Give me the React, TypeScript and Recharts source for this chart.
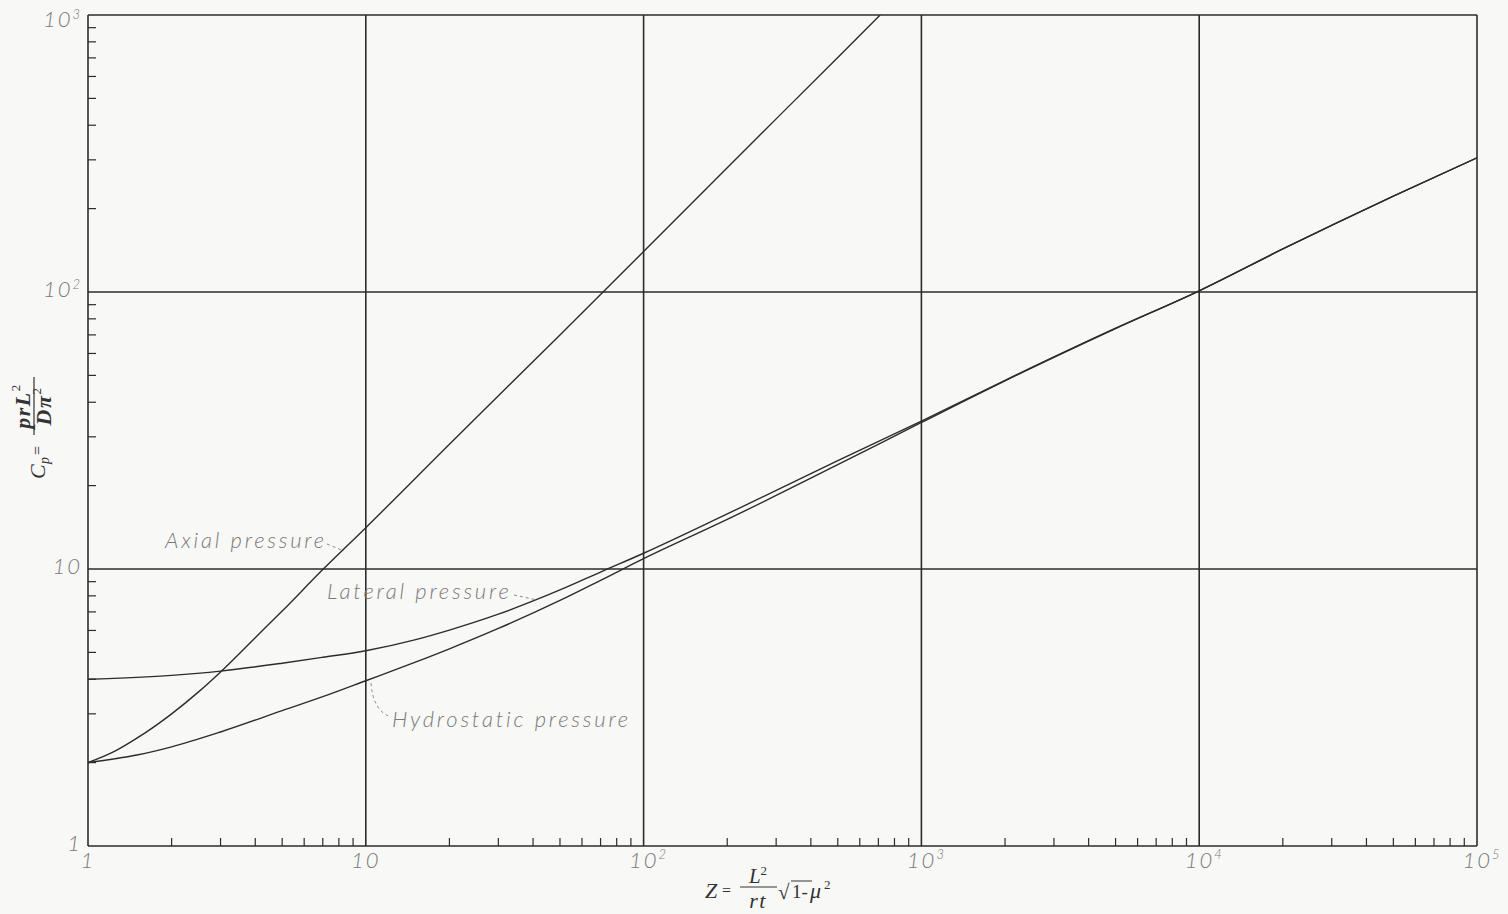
import { LineChart, Line, XAxis, YAxis, ReferenceLine } from "recharts";

// Z values and Cp values
const axialZ = [1, 1.25, 1.5, 2, 2.5, 3, 4, 5, 7, 10, 20, 50, 100, 200, 500, 710];
const axialCp = [2.0, 2.2, 2.45, 3.0, 3.6, 4.25, 5.65, 7.05, 9.95, 14.1, 28.2, 70, 140, 281, 703, 1000];

const lateralZ = [1, 2, 3, 5, 7, 10, 15, 20, 30, 50, 70, 100, 200, 500, 1000, 2000, 5000, 10000, 20000, 50000, 100000];
const lateralCp = [4.0, 4.13, 4.28, 4.57, 4.8, 5.07, 5.55, 6.02, 6.87, 8.4, 9.75, 11.4, 15.8, 24.6, 34.2, 48, 74, 101, 143, 222, 305];

const hydroZ = [1, 1.5, 2, 3, 5, 7, 10, 15, 20, 30, 50, 70, 100, 200, 500, 1000, 2000, 5000, 10000, 20000, 50000, 100000];
const hydroCp = [2.0, 2.13, 2.28, 2.58, 3.08, 3.46, 3.95, 4.6, 5.15, 6.1, 7.7, 9.1, 10.9, 15.1, 23.8, 33.8, 47.8, 73.8, 101, 143, 222, 305];

// axis ticks
const xMajor = [1, 10, 100, 1000, 10000, 100000];
const yMajor = [1, 10, 100, 1000];
const minorSteps = [2, 3, 4, 5, 6, 7, 8, 9];
const xMinor = [1, 10, 100, 1000, 10000].flatMap((d) => minorSteps.map((s) => s * d));
const yMinor = [1, 10, 100].flatMap((d) => minorSteps.map((s) => s * d));
const xTickLabels = [["1", ""], ["10", ""], ["10", "2"], ["10", "3"], ["10", "4"], ["10", "5"]];
const yTickLabels = [["1", ""], ["10", ""], ["10", "2"], ["10", "3"]];

const toRows = (zs: number[], cps: number[]) => zs.map((z, i) => ({ z, cp: cps[i] }));
const axialData = toRows(axialZ, axialCp);
const lateralData = toRows(lateralZ, lateralCp);
const hydroData = toRows(hydroZ, hydroCp);

const INK = "#2c2c2c";
const LABEL = "#7a7a7a";
const labelFont = { fontFamily: "Lato, 'Liberation Sans', sans-serif", fontStyle: "italic" as const, fontWeight: 300 };

const XTick = (props: any) => {
  const { x, y, payload } = props;
  const i = xMajor.indexOf(payload.value);
  if (i < 0) {
    return <line x1={x} x2={x} y1={y} y2={y - 8} stroke={INK} strokeWidth={1.2} />;
  }
  const [base, sup] = xTickLabels[i];
  return (
    <text x={x + (sup ? 5 : 0)} y={y + 22} textAnchor="middle" fill={LABEL} fontSize={22} letterSpacing={2} {...labelFont}>
      {base}
      {sup && <tspan fontSize={13} dy={-9}>{sup}</tspan>}
    </text>
  );
};

const YTick = (props: any) => {
  const { x, y, payload } = props;
  const i = yMajor.indexOf(payload.value);
  if (i < 0) {
    return <line x1={x} x2={x + 8} y1={y} y2={y} stroke={INK} strokeWidth={1.2} />;
  }
  const [base, sup] = yTickLabels[i];
  // the top label would be clipped at the page edge, so it sits a little lower
  const dy = i === yMajor.length - 1 ? 12 : 5;
  return (
    <text x={x - 6} y={y + dy} textAnchor="end" fill={LABEL} fontSize={22} letterSpacing={2} {...labelFont}>
      {base}
      {sup && <tspan fontSize={13} dy={-8}>{sup}</tspan>}
    </text>
  );
};

const Overlay = () => (
  <svg width={1508} height={914} style={{ position: "absolute", left: 0, top: 0, pointerEvents: "none" }}>
    {/* y axis title */}
    <g transform="translate(34,405) rotate(-90)" fill="#333" fontFamily="'Liberation Serif', serif" fontStyle="italic">
      <text x={-74} y={11} fontSize={22}>C</text>
      <text x={-59} y={15} fontSize={14}>p</text>
      <text x={-50} y={9} fontSize={16} fontStyle="normal">=</text>
      <line x1={-30} x2={28} y1={0} y2={0} stroke="#333" strokeWidth={1.2} />
      <text x={-1} y={-4} fontSize={22} fontWeight="bold" textAnchor="middle" letterSpacing={1.5}>
        prL<tspan fontSize={13} dy={-10} fontStyle="normal" fontWeight="normal">2</tspan>
      </text>
      <text x={-1} y={17} fontSize={22} fontWeight="bold" textAnchor="middle" letterSpacing={1.5}>
        Dπ<tspan fontSize={13} dy={-10} fontStyle="normal" fontWeight="normal">2</tspan>
      </text>
    </g>
    {/* x axis title */}
    <g fill="#333" fontFamily="'Liberation Serif', serif" fontStyle="italic">
      <text x={705} y={898} fontSize={22}>Z</text>
      <text x={722} y={896} fontSize={16} fontStyle="normal">=</text>
      <line x1={740} x2={777} y1={887} y2={887} stroke="#333" strokeWidth={1.2} />
      <text x={758} y={883} fontSize={21} textAnchor="middle">
        L<tspan fontSize={13} dy={-8} fontStyle="normal">2</tspan>
      </text>
      <text x={758} y={908} fontSize={22} textAnchor="middle" letterSpacing={1.5}>rt</text>
      <text x={778} y={899} fontSize={21} fontStyle="normal">√</text>
      <line x1={791} x2={812} y1={881} y2={881} stroke="#333" strokeWidth={1} />
      <text x={792} y={898} fontSize={19} fontStyle="normal">1-</text>
      <text x={810} y={898} fontSize={22}>μ</text>
      <text x={824} y={889} fontSize={13} fontStyle="normal">2</text>
    </g>
    {/* curve annotations */}
    <g fill={LABEL} fontSize={22} {...labelFont} letterSpacing={2.8}>
      <text x={165} y={548}>Axial pressure</text>
      <text x={327} y={599}>Lateral pressure</text>
      <text x={392} y={727}>Hydrostatic pressure</text>
    </g>
    <g stroke="#8a8a8a" strokeWidth={1} strokeDasharray="3 3" fill="none">
      <path d="M327 544 L344 551" />
      <path d="M514 595 L537 600" />
      <path d="M371 683 Q373 711 391 717" />
    </g>
  </svg>
);

export default function App() {
  return (
    <div style={{ position: "absolute", left: 0, top: 0, width: 1508, height: 914, background: "#f8f8f7" }}>
      <LineChart width={1508} height={914} margin={{ top: 15, right: 31, bottom: 28, left: 28 }}>
        <XAxis
          type="number"
          dataKey="z"
          scale="log"
          domain={[1, 100000]}
          ticks={[...xMajor, ...xMinor]}
          interval={0}
          tickSize={0}
          tickMargin={0}
          tick={<XTick />}
          axisLine={false}
          height={40}
          allowDataOverflow
        />
        <YAxis
          type="number"
          scale="log"
          domain={[1, 1000]}
          ticks={[...yMajor, ...yMinor]}
          interval={0}
          tickSize={0}
          tickMargin={0}
          tick={<YTick />}
          axisLine={false}
          width={60}
          allowDataOverflow
        />
        {xMajor.map((v) => (
          <ReferenceLine key={"x" + v} x={v} stroke={INK} strokeWidth={1.6} />
        ))}
        {yMajor.map((v) => (
          <ReferenceLine key={"y" + v} y={v} stroke={INK} strokeWidth={1.6} />
        ))}
        <Line data={axialData} dataKey="cp" type="monotone" dot={false} stroke={INK} strokeWidth={1.4} isAnimationActive={false} />
        <Line data={lateralData} dataKey="cp" type="monotone" dot={false} stroke={INK} strokeWidth={1.4} isAnimationActive={false} />
        <Line data={hydroData} dataKey="cp" type="monotone" dot={false} stroke={INK} strokeWidth={1.4} isAnimationActive={false} />
      </LineChart>
      <Overlay />
    </div>
  );
}
